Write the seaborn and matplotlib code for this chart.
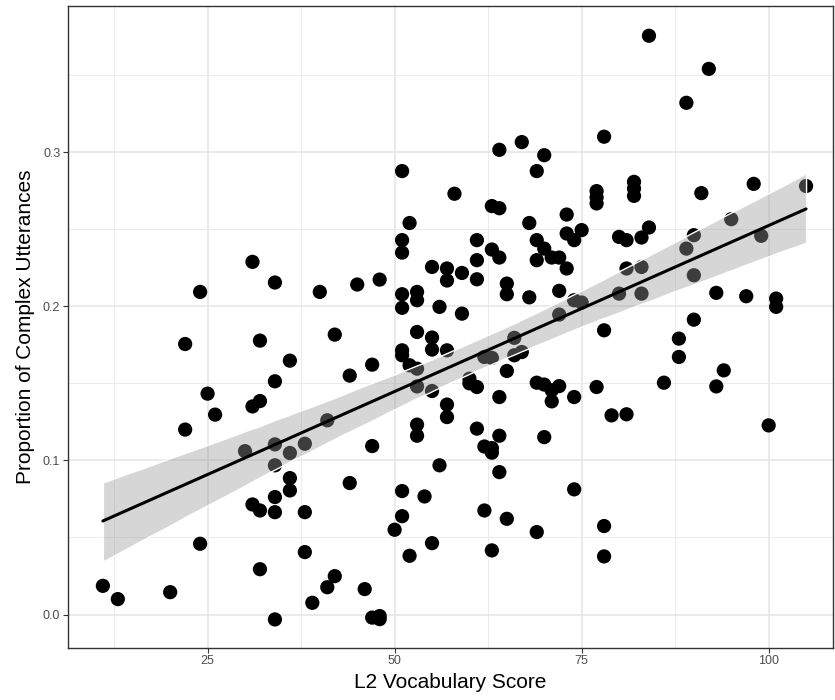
import numpy as np
import pandas as pd
import matplotlib
matplotlib.use("Agg")
import matplotlib.pyplot as plt
import seaborn as sns

vocab = [
    64, 67, 70, 69, 51, 58, 63, 64, 73, 52, 68,
    84, 92, 89, 78, 77, 77, 77, 82, 82, 82, 91, 98, 105, 95,
    31, 34, 24, 40, 22, 32, 36, 34, 25, 32, 31, 26, 22, 42, 41,
    51, 51, 61, 63, 64, 61, 55, 57, 57, 59, 61, 65, 65, 68, 72, 69, 70, 71, 72, 69, 73, 73, 74,
    51, 53, 53, 51, 56, 59, 45, 48,
    53, 55, 55, 57, 51, 51, 52, 53, 53, 55, 47, 44,
    60, 60, 61, 62, 63, 66, 66, 67, 65, 64, 69, 70, 71, 72, 71, 74, 72, 74,
    57, 57, 53, 53, 61, 64, 70, 47,
    75, 80, 81, 83, 84, 90, 89, 99, 81, 83, 90, 80, 83, 75, 93, 97, 101, 101, 90, 78, 88, 88,
    94, 93, 86, 77, 79, 81, 100,
    30, 34, 36, 38, 34, 36, 36, 34, 31, 32, 34, 38, 24, 38, 32, 11, 13, 20, 34, 39, 41,
    62, 63, 63, 56, 64, 44, 51, 54, 74, 62, 65, 51, 50, 69, 55, 52, 63, 42, 46, 47, 48, 48,
    78, 78,
]
proportion = [
    0.3015, 0.3065, 0.298, 0.2877, 0.2877, 0.273, 0.265, 0.2636, 0.2595, 0.254, 0.254,
    0.3755, 0.354, 0.332, 0.310, 0.2747, 0.2706, 0.2667, 0.2807, 0.2764, 0.2716, 0.2734, 0.2794, 0.278, 0.2565,
    0.2288, 0.2154, 0.2093, 0.2093, 0.1755, 0.1777, 0.1647, 0.1513, 0.1433, 0.1385, 0.135, 0.1297, 0.120, 0.1816, 0.126,
    0.2429, 0.2348, 0.2429, 0.2368, 0.2316, 0.2299, 0.2255, 0.2245, 0.2167, 0.2216, 0.2175, 0.2147, 0.2078, 0.2058, 0.210,
    0.2429, 0.2374, 0.2316, 0.2316, 0.2299, 0.2245, 0.2472, 0.2429,
    0.2078, 0.2093, 0.2039, 0.199, 0.1996, 0.1952, 0.2141, 0.2173,
    0.1833, 0.1797, 0.1719, 0.1714, 0.1714, 0.1682, 0.1617, 0.1595, 0.148, 0.145, 0.1621, 0.155,
    0.153, 0.150, 0.1476, 0.1671, 0.1665, 0.1795, 0.1682, 0.1703, 0.158, 0.1411, 0.1504, 0.1492, 0.1455, 0.1482, 0.1383,
    0.1411, 0.1946, 0.2039,
    0.1362, 0.1281, 0.1232, 0.116, 0.1206, 0.116, 0.1151, 0.1093,
    0.2494, 0.245, 0.2429, 0.2446, 0.2511, 0.2461, 0.2374, 0.2457, 0.2245, 0.2255, 0.2201, 0.2082, 0.2082, 0.2024,
    0.2087, 0.2065, 0.205, 0.1996, 0.1913, 0.1844, 0.179, 0.1671,
    0.1584, 0.148, 0.1504, 0.1476, 0.1292, 0.1299, 0.1227,
    0.106, 0.1104, 0.1048, 0.1108, 0.0968, 0.0885, 0.0805, 0.0762, 0.0714, 0.0675, 0.0664, 0.0664, 0.0459, 0.0405,
    0.0294, 0.0186, 0.0100, 0.0145, -0.0032, 0.0076, 0.0177,
    0.109, 0.108, 0.105, 0.0968, 0.0924, 0.0853, 0.0801, 0.0766, 0.0812, 0.0675, 0.0621, 0.0638, 0.055, 0.0535,
    0.0463, 0.0381, 0.0416, 0.0249, 0.0165, -0.002, -0.001, -0.003,
    0.0574, 0.0377,
]

x_major = [25, 50, 75, 100]
x_minor = [12.5, 37.5, 62.5, 87.5]
y_major = [0.0, 0.1, 0.2, 0.3]
y_minor = [0.05, 0.15, 0.25, 0.35]
y_labels = ["0.0", "0.1", "0.2", "0.3"]

df = pd.DataFrame({"vocab": vocab, "prop": proportion})

sns.set_style("white")
plt.rcParams["font.family"] = ["Liberation Sans", "DejaVu Sans"]

fig = plt.figure(figsize=(8.35, 7.0), dpi=100)
ax = fig.add_axes([68 / 835, 1 - 647.5 / 700, (833 - 68) / 835, (647.5 - 6) / 700])

sns.regplot(data=df, x="vocab", y="prop", ax=ax, ci=95, n_boot=2000, seed=3,
            scatter_kws=dict(s=105, color="black", edgecolor="none", alpha=1, zorder=2),
            line_kws=dict(color="black", lw=2.2, zorder=4))

# restyle the confidence band like ggplot's geom_smooth
for coll in ax.collections:
    if isinstance(coll, matplotlib.collections.PolyCollection) and not isinstance(
            coll, matplotlib.collections.PathCollection):
        coll.set_facecolor((0.6, 0.6, 0.6, 0.4))
        coll.set_alpha(None)
        coll.set_zorder(3)

ax.set_xlim(6.34, 108.6)
ax.set_ylim(-0.0214, 0.3948)

ax.set_xticks(x_major)
ax.set_xticks(x_minor, minor=True)
ax.set_yticks(y_major)
ax.set_yticks(y_minor, minor=True)
ax.set_yticklabels(y_labels)
ax.grid(which="major", color="#e6e6e6", lw=1.2, zorder=0)
ax.grid(which="minor", color="#ebebeb", lw=0.7, zorder=0)
ax.set_axisbelow(True)

ax.tick_params(axis="both", which="major", length=3.5, width=0.8, color="#333333",
               labelsize=9, labelcolor="#4d4d4d", pad=2, direction="out",
               bottom=True, left=True)
ax.tick_params(axis="both", which="minor", length=0)

for sp in ax.spines.values():
    sp.set_color("#333333")
    sp.set_linewidth(1.0)

ax.set_xlabel("L2 Vocabulary Score", fontsize=15, color="black", labelpad=4)
ax.set_ylabel("Proportion of Complex Utterances", fontsize=15, color="black", labelpad=6)

fig.savefig("out.png", dpi=100)
